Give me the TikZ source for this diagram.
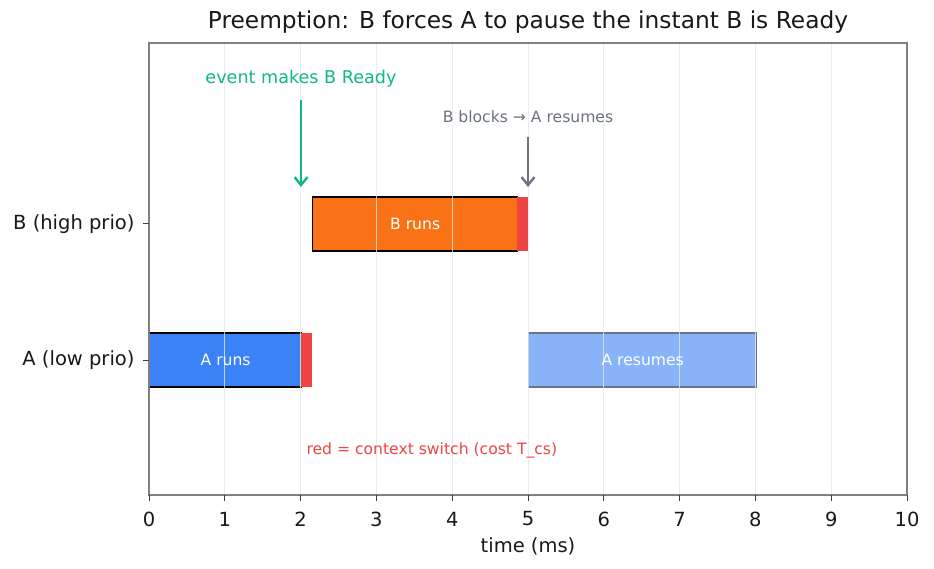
\documentclass[tikz,border=0pt]{standalone}
\usepackage{fontspec}
\setmainfont{DejaVu Sans}
\usetikzlibrary{arrows.meta}
\definecolor{gridc}{HTML}{E5E7EB}
\definecolor{framec}{HTML}{808080}
\definecolor{ablue}{HTML}{3B82F6}
\definecolor{aresume}{HTML}{89B3F9}
\definecolor{aedge}{HTML}{6B7484}
\definecolor{borange}{HTML}{F97316}
\definecolor{csred}{HTML}{EF4444}
\definecolor{evgreen}{HTML}{10B981}
\definecolor{blkgray}{HTML}{6B7280}
\tikzset{
  bar/.style={draw=black, line width=1.3pt, minimum height=54pt, inner sep=0pt, anchor=west},
  csbar/.style={fill=csred, draw=none, minimum height=54pt, inner sep=0pt, anchor=west, minimum width=11pt},
  bartext/.style={text=white, font=\fontsize{15.6}{18}\selectfont},
  ticklab/.style={font=\fontsize{19.5}{22}\selectfont, text=black!90},
  note/.style={font=\fontsize{15.6}{18}\selectfont},
  arr/.style={-{Straight Barb[length=8pt,width=13pt]}, line width=2.4pt}
}
\begin{document}
\begin{tikzpicture}[x=1pt,y=-1pt]
\useasboundingbox (0,0) rectangle (934,569);
\fill[white] (0,0) rectangle (934,569);
% bars
\node[bar, fill=ablue, minimum width=152pt] (arun) at (149,360) {};
\node[csbar] (cs1) at (301,360) {};
\node[bar, fill=borange, minimum width=205pt] (brun) at (312,224) {};
\node[csbar] (cs2) at (517,224) {};
\node[bar, fill=aresume, draw=aedge, line width=1.4pt, minimum width=228pt] (ares) at (528,360) {};
% grid
\foreach \i in {1,...,9} {
  \draw[gridc, line width=0.8pt, opacity=0.8] ({149+75.8*\i},43) -- ({149+75.8*\i},495);
}
\node[bartext] (tarun) at (arun.center) {A runs};
\node[bartext] (tbrun) at (brun.center) {B runs};
\node[bartext] (tares) at (ares.center) {A resumes};
% frame
\draw[framec, line width=1.4pt] (149,43) rectangle (907,495);
% x ticks
\foreach \i in {0,...,10} {
  \draw[black!75, line width=1pt] ({149+75.8*\i},495) -- ({149+75.8*\i},501);
  \node[ticklab] (xt\i) at ({149+75.8*\i},519) {\i};
}
\node[ticklab] (xlabel) at (528,546) {time (ms)};
% y ticks
\draw[black!75, line width=1pt] (143,224) -- (149,224);
\draw[black!75, line width=1pt] (143,360) -- (149,360);
\node[ticklab, anchor=east] (ylb) at (138,224) {B (high prio)};
\node[ticklab, anchor=east] (yla) at (138,360) {A (low prio)};
% title
\node[font=\fontsize{23.3}{26}\selectfont, text=black!90] (title) at (528,22) {Preemption: B forces A to pause the instant B is Ready};
% annotations
\node[note, text=evgreen, font=\fontsize{17.6}{20}\selectfont] (ev) at (301,79) {event makes B Ready};
\coordinate (evs) at (301,100);
\coordinate (eve) at (301,187);
\draw[arr, evgreen] (evs) -- (eve);
\node[note, text=blkgray] (bb) at (528,117) {B blocks \symbol{"2192} A resumes};
\coordinate (bbs) at (528,137);
\coordinate (bbe) at (528,187);
\draw[arr, blkgray] (bbs) -- (bbe);
\node[note, text=csred, anchor=west] (red) at (303,450) {red = context switch (cost T\_cs)};
\end{tikzpicture}
\end{document}
